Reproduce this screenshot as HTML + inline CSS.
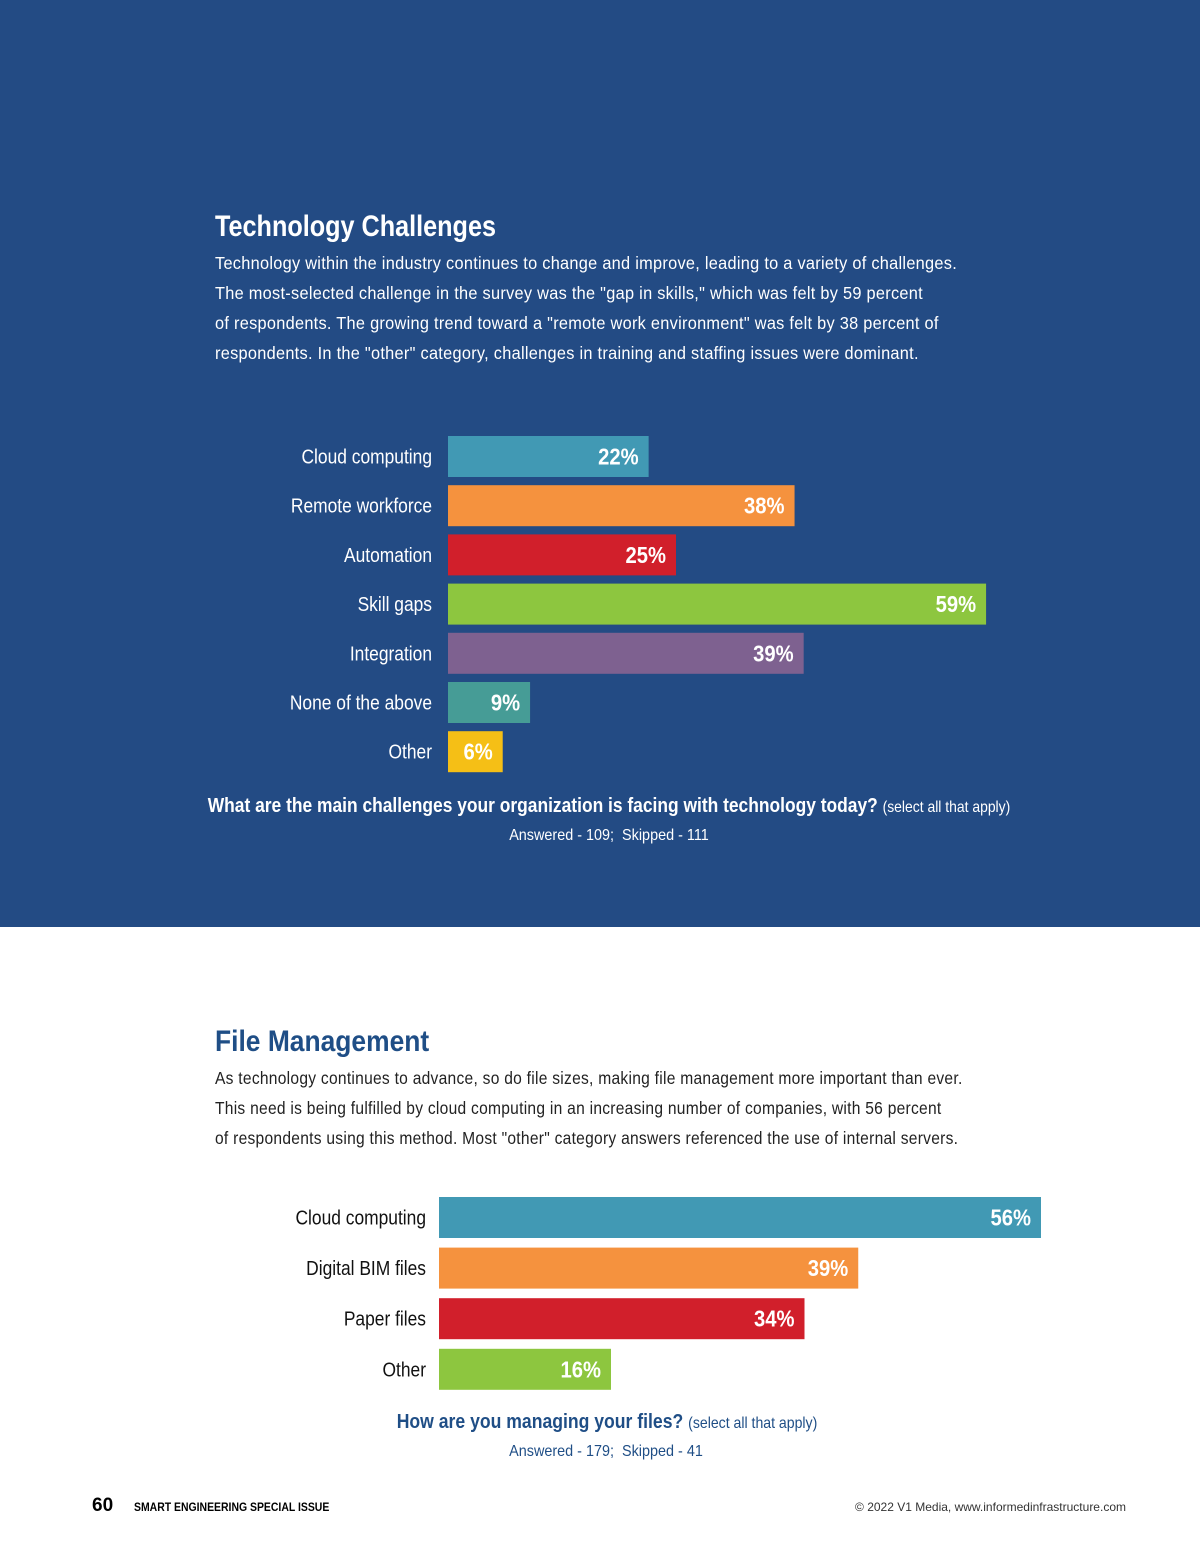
<!DOCTYPE html>
<html><head><meta charset="utf-8"><style>
body{margin:0;width:1200px;height:1558px;position:relative;background:#fff;font-family:"Liberation Sans",sans-serif;overflow:hidden}
#top{position:absolute;left:0;top:0;width:1200px;height:927px;background:#234b84}
.abs{position:absolute;white-space:nowrap}
h2{margin:0;font-size:30px;font-weight:bold}
.p{font-size:17.5px;line-height:30px;letter-spacing:0.3px;transform:scaleX(0.933);transform-origin:0 0}
.sq{transform-origin:0 0}
</style></head><body>
<div id="top">
<h2 class="abs sq" style="left:215px;top:210px;color:#fff;transform:scaleX(0.84)">Technology Challenges</h2>
<div class="abs p" style="left:215px;top:248px;color:#fff">Technology within the industry continues to change and improve, leading to a variety of challenges.<br>The most-selected challenge in the survey was the "gap in skills," which was felt by 59 percent<br>of respondents. The growing trend toward a "remote work environment" was felt by 38 percent of<br>respondents. In the "other" category, challenges in training and staffing issues were dominant.</div>
<svg id="c1" class="abs" style="left:0;top:0" width="1200" height="927"></svg>
<div class="abs" style="left:0;width:1218px;text-align:center;top:795px;color:#fff;font-size:20px;font-weight:bold;transform:scaleX(0.87);transform-origin:609px 0">What are the main challenges your organization is facing with technology today? <span style="font-weight:normal;font-size:16px">(select all that apply)</span></div>
<div class="abs" style="left:0;width:1218px;text-align:center;top:827px;color:#fff;font-size:16px;transform:scaleX(0.9);transform-origin:609px 0">Answered - 109;&nbsp; Skipped - 111</div>
</div>
<h2 class="abs sq" style="left:215px;top:1025px;color:#1f4e86;transform:scaleX(0.88)">File Management</h2>
<div class="abs p" style="left:215px;top:1063px;color:#222;transform:scaleX(0.89)">As technology continues to advance, so do file sizes, making file management more important than ever.<br>This need is being fulfilled by cloud computing in an increasing number of companies, with 56 percent<br>of respondents using this method. Most "other" category answers referenced the use of internal servers.</div>
<svg id="c2" class="abs" style="left:0;top:0" width="1200" height="1558"></svg>
<div class="abs" style="left:0;width:1214px;text-align:center;top:1411px;color:#1f4e86;font-size:20px;font-weight:bold;transform:scaleX(0.88);transform-origin:607px 0">How are you managing your files? <span style="font-weight:normal;font-size:16px">(select all that apply)</span></div>
<div class="abs" style="left:0;width:1212px;text-align:center;top:1443px;color:#1f4e86;font-size:16px;transform:scaleX(0.9);transform-origin:606px 0">Answered - 179;&nbsp; Skipped - 41</div>
<div class="abs" style="left:92px;top:1495px;font-weight:bold;font-size:19px">60</div>
<div class="abs sq" style="left:134px;top:1500px;font-weight:bold;font-size:12px;transform:scaleX(0.87)">SMART ENGINEERING SPECIAL ISSUE</div>
<div class="abs" style="right:74px;top:1500px;font-size:12px;color:#333">© 2022 V1 Media, www.informedinfrastructure.com</div>
<script>
const cats1=["Cloud computing","Remote workforce","Automation","Skill gaps","Integration","None of the above","Other"];
const vals1=[22,38,25,59,39,9,6];
const cols1=["#4199b4","#f5923e","#d11f2b","#8dc63f","#7e6190","#469c96","#f5bf16"];
const cats2=["Cloud computing","Digital BIM files","Paper files","Other"];
const vals2=[56,39,34,16];
const cols2=["#4199b4","#f5923e","#d11f2b","#8dc63f"];
const NS="http://www.w3.org/2000/svg";
function draw(svg,cats,vals,cols,x0,y0,pitch,h,scale,labColor,gap){
 const s=document.getElementById(svg);
 const xs=v=>v*scale;
 cats.forEach((c,i)=>{
  const y=y0+i*pitch;
  const r=document.createElementNS(NS,"rect");
  
  
  r.setAttribute("x",x0);r.setAttribute("y",y);r.setAttribute("width",xs(vals[i]));r.setAttribute("height",h);r.setAttribute("fill",cols[i]);
  s.appendChild(r);
  const t=document.createElementNS(NS,"text");
  
  
  t.setAttribute("transform","translate("+(x0-gap)+","+(y+h/2+7)+") scale(0.87,1)");
  t.setAttribute("text-anchor","end");t.setAttribute("fill",labColor);t.setAttribute("font-size","20");
  t.textContent=c;s.appendChild(t);
  const v=document.createElementNS(NS,"text");
  
  
  v.setAttribute("transform","translate("+(x0+xs(vals[i])-10)+","+(y+h/2+8)+") scale(0.88,1)");
  v.setAttribute("text-anchor","end");v.setAttribute("fill","#fff");v.setAttribute("font-size","23");v.setAttribute("font-weight","bold");
  v.textContent=vals[i]+"%";s.appendChild(v);
 });
}
draw("c1",cats1,vals1,cols1,448,436,49.2,41,9.12,"#fff",16);
draw("c2",cats2,vals2,cols2,439,1197,50.6,41,10.75,"#111",13);
</script>
</body></html>
